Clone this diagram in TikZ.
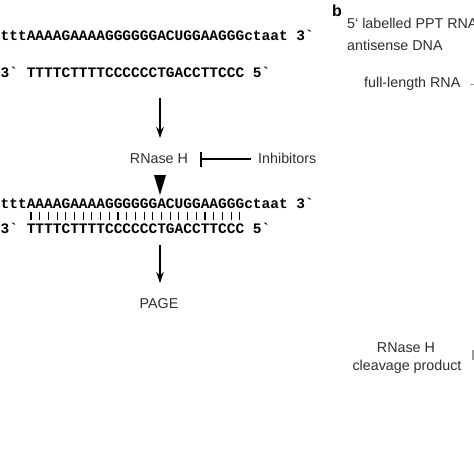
\documentclass[tikz,border=0pt]{standalone}
\usepackage{fontspec}
\setmainfont{Liberation Sans}
\newfontfamily\seqfont{Liberation Mono}
\usetikzlibrary{arrows.meta}
\definecolor{txtgrey}{HTML}{2E2E2E}
\definecolor{stubgrey}{HTML}{9A9A9A}
\begin{document}
\begin{tikzpicture}[x=1pt,y=-1pt,
  seq/.style={inner sep=0pt,anchor=base west,font=\seqfont\bfseries\fontsize{14.5}{17}\selectfont,text=black},
  lab/.style={inner sep=0pt,anchor=base,font=\fontsize{14.3}{17}\selectfont,text=txtgrey},
  flow/.style={line width=1.5pt,-{Stealth[length=11pt,width=7.5pt]}},
  pairbar/.style={line width=1.1pt}]
\useasboundingbox (0,0) rectangle (474,474);
\clip (0,0) rectangle (474,474);
% panel a
\node[seq] (seq1) at (0.5,40) {tttAAAAGAAAAGGGGGGACUGGAAGGGctaat 3`};
\node[seq] (seq2) at (0.5,77) {3` TTTTCTTTTCCCCCCTGACCTTCCC 5`};
\node[lab] (rnase) at (159,163) {RNase H};
\node[lab,anchor=base west] (inhib) at (258,163) {Inhibitors};
\node[seq] (seq3) at (0.5,208) {tttAAAAGAAAAGGGGGGACUGGAAGGGctaat 3`};
\node[seq] (seq4) at (0.5,233) {3` TTTTCTTTTCCCCCCTGACCTTCCC 5`};
\node[lab] (page) at (159,308) {PAGE};
\coordinate (a1s) at (160,98);
\coordinate (a1e) at (160,138);
\draw[flow] (a1s) -- (a1e);
\coordinate (inhbar) at (200,159);
\coordinate (inhstart) at (251,159);
\draw[line width=1.3pt,-{Bar[width=15pt,line width=1.6pt]}] (inhstart) -- (inhbar);
\coordinate (cutL) at (154,175);
\coordinate (cutR) at (166,175);
\coordinate (cutT) at (160,195);
\fill (cutL) -- (cutR) -- (cutT) -- cycle;
\foreach \i in {3,...,27}{
  \draw[pairbar] ({0.5+(\i+0.5)*8.7},212) -- ({0.5+(\i+0.5)*8.7},219.5);
}
\coordinate (a2s) at (160,245);
\coordinate (a2e) at (160,283);
\draw[flow] (a2s) -- (a2e);
% panel b
\node[inner sep=0pt,anchor=base west,font=\bfseries\fontsize{16}{18}\selectfont,text=black] (blabel) at (332,16.5) {b};
\node[lab,anchor=base west] (ppt) at (347,28) {5‘ labelled PPT RNA};
\node[lab,anchor=base west] (anti) at (347,50) {antisense DNA};
\node[lab,anchor=base west] (full) at (364,87) {full-length RNA};
\node[lab] (rn2) at (406,352) {RNase H};
\node[lab] (clv) at (407,370) {cleavage product};
\coordinate (s1a) at (470,84);
\coordinate (s1b) at (474,84);
\draw[stubgrey,line width=1pt] (s1a) -- (s1b);
\fill[stubgrey] (471.5,350) rectangle (474,360);
\end{tikzpicture}
\end{document}
